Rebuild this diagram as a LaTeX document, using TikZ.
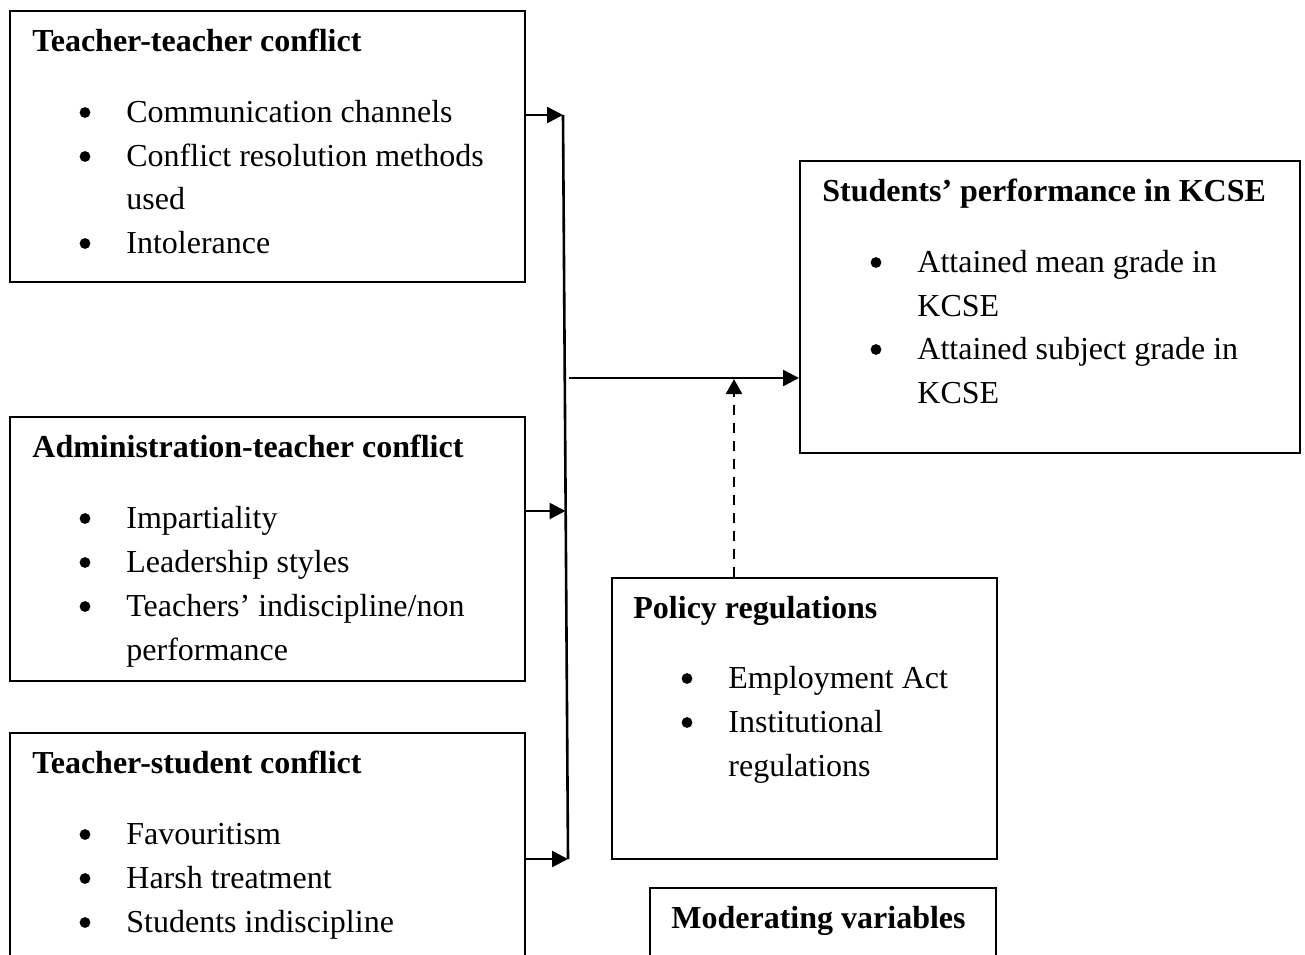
\documentclass[tikz,border=0pt]{standalone}
\usepackage{fontspec}
\setmainfont{Liberation Serif}
\usetikzlibrary{arrows.meta,fit}
\begin{document}
\begin{tikzpicture}[x=0.5pt,y=-0.5pt,
  every node/.style={font=\fontsize{16}{20}\selectfont},
  box/.style={draw, line width=1pt, inner sep=0pt},
  ttl/.style={anchor=base west, inner sep=0pt, font=\fontsize{16}{20}\selectfont\bfseries},
  txt/.style={anchor=base west, inner sep=0pt},
  arr/.style={line width=1.3pt, -{Triangle[length=8pt,width=8pt]}},
  link/.style={line width=1.3pt},
  darr/.style={line width=1.2pt, dash pattern=on 5pt off 4pt, -{Triangle[length=7.5pt,width=8pt]}}
]
\useasboundingbox (0,0) rectangle (1305,954);
\newcommand\bdot[2]{\fill (#1,#2-9.5) circle[radius=2.7pt];}
\begin{scope}
\clip (0,0) rectangle (1305,954);
% Box 1
\node[box, fit={(10,11) (525,282)}] (tt) {};
\node[ttl] (tt-t) at (32,51) {Teacher-teacher conflict};
\bdot{85}{122}\node[txt] (tt-1) at (126,122) {Communication channels};
\bdot{85}{166}\node[txt] (tt-2) at (126,166) {Conflict resolution methods};
\node[txt] (tt-2b) at (126,209) {used};
\bdot{85}{253}\node[txt] (tt-3) at (126,253) {Intolerance};
% Box 2
\node[box, fit={(10,417) (525,681)}] (at) {};
\node[ttl] (at-t) at (32,457) {Administration-teacher conflict};
\bdot{85}{528}\node[txt] (at-1) at (126,528) {Impartiality};
\bdot{85}{572}\node[txt] (at-2) at (126,572) {Leadership styles};
\bdot{85}{616}\node[txt] (at-3) at (126,616) {Teachers’ indiscipline/non};
\node[txt] (at-3b) at (126,660) {performance};
% Box 3
\node[box, fit={(10,733) (525,1000)}] (ts) {};
\node[ttl] (ts-t) at (32,773) {Teacher-student conflict};
\bdot{85}{844}\node[txt] (ts-1) at (126,844) {Favouritism};
\bdot{85}{888}\node[txt] (ts-2) at (126,888) {Harsh treatment};
\bdot{85}{932}\node[txt] (ts-3) at (126,932) {Students indiscipline};
% Box 4
\node[box, fit={(800,161) (1300,453)}] (perf) {};
\node[ttl] (perf-t) at (822,201) {Students’ performance in KCSE};
\bdot{876}{272}\node[txt] (perf-1) at (917,272) {Attained mean grade in};
\node[txt] (perf-1b) at (917,316) {KCSE};
\bdot{876}{359}\node[txt] (perf-2) at (917,359) {Attained subject grade in};
\node[txt] (perf-2b) at (917,403) {KCSE};
% Box 5
\node[box, fit={(612,578) (997,859)}] (pol) {};
\node[ttl] (pol-t) at (633,618) {Policy regulations};
\bdot{687}{688}\node[txt] (pol-1) at (728,688) {Employment Act};
\bdot{687}{732}\node[txt] (pol-2) at (728,732) {Institutional};
\node[txt] (pol-2b) at (728,776) {regulations};
% Box 6
\node[box, fit={(650,888) (996,1000)}] (mod) {};
\node[ttl] (mod-t) at (671,928) {Moderating variables};
\end{scope}
% connectors
\coordinate (j1) at (563,115);
\coordinate (j2) at (565.5,511);
\coordinate (j3) at (568,859);
\coordinate (ms) at (569,378);
\coordinate (dtip) at (734,379);
\draw[arr] (tt.east |- j1) -- (j1);
\draw[arr] (at.east |- j2) -- (j2);
\draw[arr] (ts.east |- j3) -- (j3);
\draw[link] (j1) -- (j3);
\draw[arr] (ms) -- (ms -| perf.west);
\draw[darr] (pol.north -| dtip) -- (dtip);
\end{tikzpicture}
\end{document}
